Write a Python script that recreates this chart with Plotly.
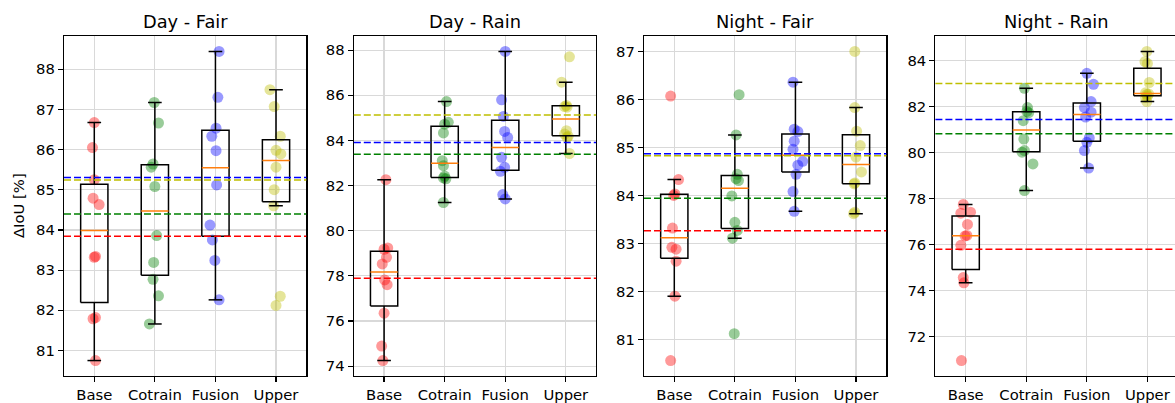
import numpy as np
import plotly.graph_objects as go

# ---------------- data ----------------
METHODS = ["Base", "Cotrain", "Fusion", "Upper"]
PANEL_TITLES = ["Day - Fair", "Day - Rain", "Night - Fair", "Night - Rain"]
Y_TICK_STEP = [1, 2, 1, 2]
Y_LABEL = "ΔIoU [%]"

DAY_FAIR = {
    "Base":    [86.67, 86.05, 85.25, 84.79, 84.63, 83.34, 83.32, 81.82, 81.79, 80.75],
    "Cotrain": [87.17, 86.66, 85.64, 85.56, 85.08, 83.86, 83.19, 82.77, 82.36, 81.66],
    "Fusion":  [88.44, 87.30, 86.53, 86.33, 85.97, 85.12, 84.12, 83.75, 83.24, 82.26],
    "Upper":   [87.49, 87.07, 86.33, 85.98, 85.89, 85.56, 85.00, 84.60, 82.35, 82.12],
}
DAY_RAIN = {
    "Base":    [82.26, 79.24, 79.18, 78.82, 78.53, 77.82, 77.61, 76.35, 74.89, 74.25],
    "Cotrain": [85.72, 84.80, 84.72, 84.33, 83.10, 82.88, 82.42, 82.34, 82.30, 81.25],
    "Fusion":  [87.94, 85.80, 85.06, 84.40, 84.13, 83.25, 82.81, 82.63, 81.60, 81.41],
    "Upper":   [87.70, 86.58, 85.55, 85.50, 85.47, 84.43, 84.28, 84.18, 84.13, 83.42],
}
NIGHT_FAIR = {
    "Base":    [86.07, 84.33, 84.03, 84.00, 83.32, 82.92, 82.88, 82.63, 81.90, 80.56],
    "Cotrain": [86.10, 85.26, 84.44, 84.35, 84.31, 83.99, 83.44, 83.27, 83.11, 81.12],
    "Fusion":  [86.36, 85.38, 85.33, 85.13, 84.96, 84.71, 84.63, 84.44, 84.08, 83.67],
    "Upper":   [87.00, 85.83, 85.34, 85.04, 84.80, 84.49, 84.26, 84.24, 83.65, 83.62],
}
NIGHT_RAIN = {
    "Base":    [77.75, 77.41, 77.37, 76.88, 76.40, 76.38, 75.97, 74.57, 74.34, 70.96],
    "Cotrain": [82.80, 81.96, 81.79, 81.74, 81.39, 80.59, 80.09, 80.02, 79.51, 78.35],
    "Fusion":  [83.45, 82.97, 82.22, 81.96, 81.76, 81.55, 80.64, 80.45, 80.09, 79.33],
    "Upper":   [84.40, 83.96, 83.88, 83.05, 82.60, 82.55, 82.53, 82.45, 82.40, 82.22],
}

# horizontal jitter of each point (category units)
DAY_FAIR_JITTER = {
    "Base":    [0.00, -0.03, 0.00, -0.02, 0.08, 0.02, 0.00, 0.02, -0.02, 0.02],
    "Cotrain": [-0.01, 0.06, -0.03, -0.06, 0.00, 0.03, -0.02, -0.03, 0.06, -0.09],
    "Fusion":  [0.06, 0.04, 0.01, -0.06, 0.01, 0.02, -0.09, -0.05, -0.01, 0.06],
    "Upper":   [-0.10, -0.03, 0.07, 0.00, 0.08, 0.00, -0.03, -0.04, 0.07, 0.00],
}
DAY_RAIN_JITTER = {
    "Base":    [0.03, 0.06, 0.00, 0.04, -0.03, 0.01, 0.05, 0.00, -0.04, -0.02],
    "Cotrain": [0.03, 0.06, 0.00, -0.02, -0.04, -0.02, 0.00, -0.02, 0.02, -0.02],
    "Fusion":  [0.00, -0.06, -0.03, -0.01, 0.04, -0.06, -0.01, -0.08, -0.04, 0.00],
    "Upper":   [0.06, -0.07, 0.01, -0.02, 0.02, 0.01, -0.02, 0.04, 0.02, 0.06],
}
NIGHT_FAIR_JITTER = {
    "Base":    [-0.06, 0.07, 0.01, -0.01, -0.03, -0.04, 0.03, 0.03, 0.01, -0.06],
    "Cotrain": [0.07, 0.02, 0.04, 0.02, 0.06, -0.05, 0.00, 0.04, -0.04, -0.01],
    "Fusion":  [-0.04, -0.02, 0.04, -0.02, -0.04, 0.12, 0.04, 0.01, -0.04, -0.02],
    "Upper":   [-0.02, -0.02, 0.01, 0.07, 0.00, 0.09, -0.02, -0.03, -0.02, -0.04],
}
NIGHT_RAIN_JITTER = {
    "Base":    [-0.04, 0.08, -0.08, 0.03, 0.02, -0.01, -0.08, -0.04, -0.03, -0.07],
    "Cotrain": [-0.03, 0.02, 0.01, 0.04, -0.05, -0.04, -0.03, -0.07, 0.11, -0.03],
    "Fusion":  [0.00, 0.11, 0.07, -0.04, 0.07, -0.02, 0.04, 0.00, -0.04, 0.03],
    "Upper":   [-0.01, -0.04, 0.00, 0.03, -0.03, 0.02, -0.01, 0.00, -0.03, -0.01],
}

PANELS = [DAY_FAIR, DAY_RAIN, NIGHT_FAIR, NIGHT_RAIN]
JITTERS = [DAY_FAIR_JITTER, DAY_RAIN_JITTER, NIGHT_FAIR_JITTER, NIGHT_RAIN_JITTER]

# ---------------- styles ----------------
LINE_COLORS = {"Base": "#ff0000", "Cotrain": "#008000", "Fusion": "#0000ff", "Upper": "#bfbf00"}
POINT_COLORS = {"Base": "rgba(255,0,0,0.4)", "Cotrain": "rgba(0,128,0,0.4)",
                "Fusion": "rgba(0,0,255,0.4)", "Upper": "rgba(191,191,0,0.4)"}
MEDIAN_COLOR = "#ff7f0e"
FONT = "DejaVu Sans"
TEXT_COLOR = "#000000"
GRID_COLOR = "#d9d9d9"

W, H = 1175, 403
PLOT_LEFT_PX = [64.0, 353.8, 644.0, 935.4]
PLOT_W_PX = 242.3
TOP_PX, BOTTOM_PX = 36.0, 376.0
BOX_W = 0.45
CAP_W = 0.225

fig = go.Figure()
shapes = []
annotations = []
layout_axes = {}

for i, (title, data, jit) in enumerate(zip(PANEL_TITLES, PANELS, JITTERS)):
    n = i + 1
    xa = "x" if n == 1 else f"x{n}"
    ya = "y" if n == 1 else f"y{n}"
    xkey = "xaxis" if n == 1 else f"xaxis{n}"
    ykey = "yaxis" if n == 1 else f"yaxis{n}"

    # scatter points (under the box lines, as in matplotlib)
    for j, m in enumerate(METHODS):
        vals = np.asarray(data[m], dtype=float)
        dx = np.asarray(jit[m], dtype=float)
        fig.add_trace(go.Scatter(
            x=(j + 1) + dx, y=vals, mode="markers",
            marker=dict(size=11, color=POINT_COLORS[m], line=dict(width=0)),
            xaxis=xa, yaxis=ya, showlegend=False, hoverinfo="skip"))

    # box plots (matplotlib style: 1.5*IQR whiskers, no fliers)
    bx, by, mx, my = [], [], [], []
    for j, m in enumerate(METHODS):
        vals = np.asarray(data[m], dtype=float)
        p = j + 1
        q1, med, q3 = np.percentile(vals, [25, 50, 75])
        iqr = q3 - q1
        lo = vals[vals >= q1 - 1.5 * iqr].min()
        hi = vals[vals <= q3 + 1.5 * iqr].max()
        l, r = p - BOX_W / 2, p + BOX_W / 2
        bx += [l, r, r, l, l, None]
        by += [q1, q1, q3, q3, q1, None]
        bx += [p, p, None, p, p, None]
        by += [q1, lo, None, q3, hi, None]
        bx += [p - CAP_W / 2, p + CAP_W / 2, None, p - CAP_W / 2, p + CAP_W / 2, None]
        by += [lo, lo, None, hi, hi, None]
        mx += [l, r, None]
        my += [med, med, None]
    fig.add_trace(go.Scatter(x=bx, y=by, mode="lines", line=dict(color="#000000", width=1.5),
                             xaxis=xa, yaxis=ya, showlegend=False, hoverinfo="skip"))
    fig.add_trace(go.Scatter(x=mx, y=my, mode="lines", line=dict(color=MEDIAN_COLOR, width=1.5),
                             xaxis=xa, yaxis=ya, showlegend=False, hoverinfo="skip"))

    # mean lines
    for m in METHODS:
        mean = float(np.mean(data[m]))
        shapes.append(dict(type="line", xref=f"{xa} domain", yref=ya, x0=0, x1=1, y0=mean, y1=mean,
                           line=dict(color=LINE_COLORS[m], width=1.5, dash="7px,3px"), layer="above"))

    # axis geometry
    all_vals = np.concatenate([np.asarray(data[m], dtype=float) for m in METHODS])
    vmin, vmax = all_vals.min(), all_vals.max()
    pad = 0.05 * (vmax - vmin)
    px_per_unit = PLOT_W_PX / 4.0
    left = PLOT_LEFT_PX[i]
    right = min(W, left + PLOT_W_PX)
    xmax = 0.5 + (right - left) / px_per_unit
    step = Y_TICK_STEP[i]
    t0 = np.ceil((vmin - pad) / step) * step
    ticks = list(np.arange(t0, vmax + pad + 1e-9, step))

    layout_axes[xkey] = dict(
        domain=[left / W, right / W], range=[0.5, xmax], anchor=ya, automargin=False,
        tickmode="array", tickvals=[1, 2, 3, 4], ticktext=METHODS,
        showgrid=True, gridcolor=GRID_COLOR, gridwidth=1.2, zeroline=False,
        showline=True, linecolor="#000000", linewidth=1.2, mirror=True,
        ticks="outside", ticklen=5, tickwidth=1.2, tickcolor="#000000",
        tickfont=dict(family=FONT, size=14.8, color=TEXT_COLOR), fixedrange=True)
    layout_axes[ykey] = dict(
        domain=[1 - BOTTOM_PX / H, 1 - TOP_PX / H], range=[vmin - pad, vmax + pad], anchor=xa,
        automargin=False,
        tickmode="array", tickvals=ticks, ticktext=[f"{t:.0f}" for t in ticks],
        showgrid=True, gridcolor=GRID_COLOR, gridwidth=1.2, zeroline=False,
        showline=True, linecolor="#000000", linewidth=1.2, mirror=(n != 4),
        ticks="outside", ticklen=5, tickwidth=1.2, tickcolor="#000000",
        tickfont=dict(family=FONT, size=14.8, color=TEXT_COLOR), fixedrange=True)

    annotations.append(dict(
        text=title, xref="paper", yref="paper",
        x=(left + PLOT_W_PX / 2) / W, y=1 - 21 / H, xanchor="center", yanchor="middle",
        showarrow=False, font=dict(family=FONT, size=17.8, color=TEXT_COLOR)))

annotations.append(dict(
    text=Y_LABEL, xref="paper", yref="paper", x=18 / W, y=1 - 206 / H,
    xanchor="center", yanchor="middle", textangle=-90, showarrow=False,
    font=dict(family=FONT, size=14.8, color=TEXT_COLOR)))

fig.update_layout(
    width=W, height=H, margin=dict(l=0, r=0, t=0, b=0, autoexpand=False),
    paper_bgcolor="white", plot_bgcolor="white",
    shapes=shapes, annotations=annotations, showlegend=False,
    font=dict(family=FONT, color=TEXT_COLOR), **layout_axes)

fig.write_html("out.html", config={"displayModeBar": False, "staticPlot": True},
               post_script="document.body.style.margin='0px';document.body.style.overflow='hidden';")
